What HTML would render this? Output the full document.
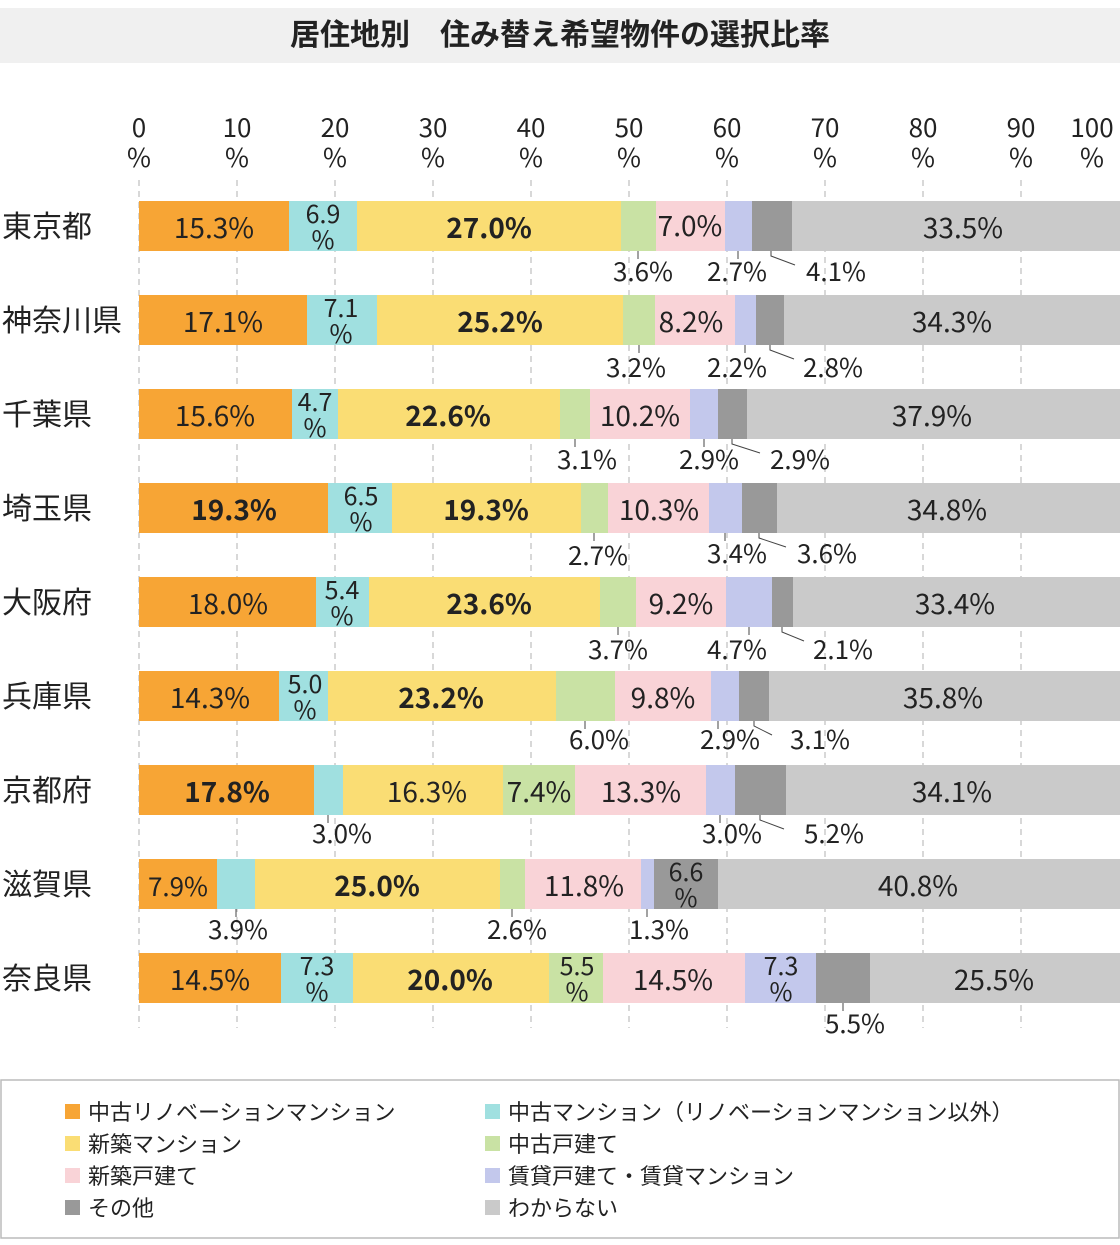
<!DOCTYPE html>
<html><head><meta charset="utf-8"><style>
body{margin:0;background:#fff;width:1120px;height:1240px;overflow:hidden;font-family:"Noto Sans CJK JP",sans-serif;}
svg text{font-family:"Noto Sans CJK JP",sans-serif;fill:#222;}
</style></head><body>
<svg width="1120" height="1240" xmlns="http://www.w3.org/2000/svg">
<rect x="0" y="8" width="1120" height="55" fill="#f0f0f0"/>
<text x="560" y="45" font-size="30" font-weight="bold" text-anchor="middle">居住地別　住み替え希望物件の選択比率</text>
<g stroke="#ccc" stroke-width="1.5" stroke-dasharray="6,5">
<line x1="139" y1="180" x2="139" y2="1028"/><line x1="237" y1="180" x2="237" y2="1028"/><line x1="335" y1="180" x2="335" y2="1028"/><line x1="433" y1="180" x2="433" y2="1028"/><line x1="531" y1="180" x2="531" y2="1028"/><line x1="629" y1="180" x2="629" y2="1028"/><line x1="727" y1="180" x2="727" y2="1028"/><line x1="825" y1="180" x2="825" y2="1028"/><line x1="923" y1="180" x2="923" y2="1028"/><line x1="1021" y1="180" x2="1021" y2="1028"/>
</g>
<g font-size="26" text-anchor="middle">
<text x="139" y="137">0</text><text x="139" y="167">%</text>
<text x="237" y="137">10</text><text x="237" y="167">%</text>
<text x="335" y="137">20</text><text x="335" y="167">%</text>
<text x="433" y="137">30</text><text x="433" y="167">%</text>
<text x="531" y="137">40</text><text x="531" y="167">%</text>
<text x="629" y="137">50</text><text x="629" y="167">%</text>
<text x="727" y="137">60</text><text x="727" y="167">%</text>
<text x="825" y="137">70</text><text x="825" y="167">%</text>
<text x="923" y="137">80</text><text x="923" y="167">%</text>
<text x="1021" y="137">90</text><text x="1021" y="167">%</text><text x="1092" y="137">100</text><text x="1092" y="167">%</text>
</g>
<g font-size="30">
<text x="2" y="237">東京都</text><text x="2" y="331">神奈川県</text><text x="2" y="425">千葉県</text><text x="2" y="519">埼玉県</text><text x="2" y="613">大阪府</text><text x="2" y="707">兵庫県</text><text x="2" y="801">京都府</text><text x="2" y="895">滋賀県</text><text x="2" y="989">奈良県</text>
</g>
<g font-size="28" text-anchor="middle">
<g transform="translate(0,201)">
<rect x="139" y="0" width="150" height="50" fill="#f7a535"/><rect x="289" y="0" width="68" height="50" fill="#a0e0e0"/><rect x="357" y="0" width="264" height="50" fill="#fadd74"/><rect x="621" y="0" width="35" height="50" fill="#c9e2a4"/><rect x="656" y="0" width="69" height="50" fill="#f9d3d7"/><rect x="725" y="0" width="27" height="50" fill="#c3c8ec"/><rect x="752" y="0" width="40" height="50" fill="#999"/><rect x="792" y="0" width="328" height="50" fill="#cacaca"/>
<text x="214" y="37">15.3%</text><text x="323" y="22" font-size="25">6.9</text><text x="323" y="48" font-size="25">%</text><text x="489" y="37" font-weight="bold">27.0%</text><text x="690" y="35">7.0%</text><text x="963" y="37">33.5%</text>
<g stroke="#444" fill="none" stroke-width="1"><line x1="638" y1="50" x2="638" y2="58"/><line x1="738" y1="50" x2="738" y2="58"/><polyline points="771,50 771,55 795,64"/></g>
<g font-size="26"><text x="643" y="80">3.6%</text><text x="737" y="80">2.7%</text><text x="836" y="80">4.1%</text></g>
</g>
<g transform="translate(0,295)">
<rect x="139" y="0" width="168" height="50" fill="#f7a535"/><rect x="307" y="0" width="70" height="50" fill="#a0e0e0"/><rect x="377" y="0" width="246" height="50" fill="#fadd74"/><rect x="623" y="0" width="32" height="50" fill="#c9e2a4"/><rect x="655" y="0" width="80" height="50" fill="#f9d3d7"/><rect x="735" y="0" width="21" height="50" fill="#c3c8ec"/><rect x="756" y="0" width="28" height="50" fill="#999"/><rect x="784" y="0" width="336" height="50" fill="#cacaca"/>
<text x="223" y="37">17.1%</text><text x="341" y="22" font-size="25">7.1</text><text x="341" y="48" font-size="25">%</text><text x="500" y="37" font-weight="bold">25.2%</text><text x="691" y="37">8.2%</text><text x="952" y="37">34.3%</text>
<g stroke="#444" fill="none" stroke-width="1"><line x1="639" y1="50" x2="639" y2="58"/><line x1="745" y1="50" x2="745" y2="58"/><polyline points="770,50 770,55 794,64"/></g>
<g font-size="26"><text x="636" y="82">3.2%</text><text x="737" y="82">2.2%</text><text x="833" y="82">2.8%</text></g>
</g>
<g transform="translate(0,389)">
<rect x="139" y="0" width="153" height="50" fill="#f7a535"/><rect x="292" y="0" width="46" height="50" fill="#a0e0e0"/><rect x="338" y="0" width="222" height="50" fill="#fadd74"/><rect x="560" y="0" width="30" height="50" fill="#c9e2a4"/><rect x="590" y="0" width="100" height="50" fill="#f9d3d7"/><rect x="690" y="0" width="28" height="50" fill="#c3c8ec"/><rect x="718" y="0" width="29" height="50" fill="#999"/><rect x="747" y="0" width="373" height="50" fill="#cacaca"/>
<text x="215" y="37">15.6%</text><text x="315" y="22" font-size="25">4.7</text><text x="315" y="48" font-size="25">%</text><text x="448" y="37" font-weight="bold">22.6%</text><text x="640" y="37">10.2%</text><text x="932" y="37">37.9%</text>
<g stroke="#444" fill="none" stroke-width="1"><line x1="575" y1="50" x2="575" y2="58"/><line x1="704" y1="50" x2="704" y2="58"/><polyline points="732,50 732,55 760,64"/></g>
<g font-size="26"><text x="587" y="80">3.1%</text><text x="709" y="80">2.9%</text><text x="800" y="80">2.9%</text></g>
</g>
<g transform="translate(0,483)">
<rect x="139" y="0" width="189" height="50" fill="#f7a535"/><rect x="328" y="0" width="64" height="50" fill="#a0e0e0"/><rect x="392" y="0" width="189" height="50" fill="#fadd74"/><rect x="581" y="0" width="27" height="50" fill="#c9e2a4"/><rect x="608" y="0" width="101" height="50" fill="#f9d3d7"/><rect x="709" y="0" width="33" height="50" fill="#c3c8ec"/><rect x="742" y="0" width="35" height="50" fill="#999"/><rect x="777" y="0" width="343" height="50" fill="#cacaca"/>
<text x="234" y="37" font-weight="bold">19.3%</text><text x="361" y="22" font-size="25">6.5</text><text x="361" y="48" font-size="25">%</text><text x="486" y="37" font-weight="bold">19.3%</text><text x="659" y="37">10.3%</text><text x="947" y="37">34.8%</text>
<g stroke="#444" fill="none" stroke-width="1"><line x1="594" y1="50" x2="594" y2="58"/><line x1="725" y1="50" x2="725" y2="58"/><polyline points="759,50 759,55 786,64"/></g>
<g font-size="26"><text x="598" y="82">2.7%</text><text x="737" y="80">3.4%</text><text x="827" y="80">3.6%</text></g>
</g>
<g transform="translate(0,577)">
<rect x="139" y="0" width="177" height="50" fill="#f7a535"/><rect x="316" y="0" width="53" height="50" fill="#a0e0e0"/><rect x="369" y="0" width="231" height="50" fill="#fadd74"/><rect x="600" y="0" width="36" height="50" fill="#c9e2a4"/><rect x="636" y="0" width="90" height="50" fill="#f9d3d7"/><rect x="726" y="0" width="46" height="50" fill="#c3c8ec"/><rect x="772" y="0" width="21" height="50" fill="#999"/><rect x="793" y="0" width="327" height="50" fill="#cacaca"/>
<text x="228" y="37">18.0%</text><text x="342" y="22" font-size="25">5.4</text><text x="342" y="48" font-size="25">%</text><text x="489" y="37" font-weight="bold">23.6%</text><text x="681" y="37">9.2%</text><text x="955" y="37">33.4%</text>
<g stroke="#444" fill="none" stroke-width="1"><line x1="618" y1="50" x2="618" y2="58"/><line x1="749" y1="50" x2="749" y2="58"/><polyline points="782,50 782,55 804,64"/></g>
<g font-size="26"><text x="618" y="82">3.7%</text><text x="737" y="82">4.7%</text><text x="843" y="82">2.1%</text></g>
</g>
<g transform="translate(0,671)">
<rect x="139" y="0" width="140" height="50" fill="#f7a535"/><rect x="279" y="0" width="49" height="50" fill="#a0e0e0"/><rect x="328" y="0" width="228" height="50" fill="#fadd74"/><rect x="556" y="0" width="59" height="50" fill="#c9e2a4"/><rect x="615" y="0" width="96" height="50" fill="#f9d3d7"/><rect x="711" y="0" width="28" height="50" fill="#c3c8ec"/><rect x="739" y="0" width="30" height="50" fill="#999"/><rect x="769" y="0" width="351" height="50" fill="#cacaca"/>
<text x="210" y="37">14.3%</text><text x="305" y="22" font-size="25">5.0</text><text x="305" y="48" font-size="25">%</text><text x="441" y="37" font-weight="bold">23.2%</text><text x="663" y="37">9.8%</text><text x="943" y="37">35.8%</text>
<g stroke="#444" fill="none" stroke-width="1"><line x1="585" y1="50" x2="585" y2="58"/><line x1="718" y1="50" x2="718" y2="58"/><polyline points="754,50 754,55 772,64"/></g>
<g font-size="26"><text x="599" y="78">6.0%</text><text x="730" y="78">2.9%</text><text x="820" y="78">3.1%</text></g>
</g>
<g transform="translate(0,765)">
<rect x="139" y="0" width="175" height="50" fill="#f7a535"/><rect x="314" y="0" width="29" height="50" fill="#a0e0e0"/><rect x="343" y="0" width="160" height="50" fill="#fadd74"/><rect x="503" y="0" width="72" height="50" fill="#c9e2a4"/><rect x="575" y="0" width="131" height="50" fill="#f9d3d7"/><rect x="706" y="0" width="29" height="50" fill="#c3c8ec"/><rect x="735" y="0" width="51" height="50" fill="#999"/><rect x="786" y="0" width="334" height="50" fill="#cacaca"/>
<text x="227" y="37" font-weight="bold">17.8%</text><text x="427" y="37">16.3%</text><text x="539" y="37">7.4%</text><text x="641" y="37">13.3%</text><text x="952" y="37">34.1%</text>
<g stroke="#444" fill="none" stroke-width="1"><line x1="328" y1="50" x2="328" y2="58"/><line x1="720" y1="50" x2="720" y2="58"/><polyline points="760,50 760,55 784,64"/></g>
<g font-size="26"><text x="342" y="78">3.0%</text><text x="732" y="78">3.0%</text><text x="834" y="78">5.2%</text></g>
</g>
<g transform="translate(0,859)">
<rect x="139" y="0" width="78" height="50" fill="#f7a535"/><rect x="217" y="0" width="38" height="50" fill="#a0e0e0"/><rect x="255" y="0" width="245" height="50" fill="#fadd74"/><rect x="500" y="0" width="25" height="50" fill="#c9e2a4"/><rect x="525" y="0" width="116" height="50" fill="#f9d3d7"/><rect x="641" y="0" width="13" height="50" fill="#c3c8ec"/><rect x="654" y="0" width="64" height="50" fill="#999"/><rect x="718" y="0" width="402" height="50" fill="#cacaca"/>
<text x="178" y="37" font-size="26">7.9%</text><text x="377" y="37" font-weight="bold">25.0%</text><text x="584" y="37">11.8%</text><text x="686" y="22" font-size="25">6.6</text><text x="686" y="48" font-size="25">%</text><text x="918" y="37">40.8%</text>
<g stroke="#444" fill="none" stroke-width="1"><line x1="236" y1="50" x2="236" y2="58"/><line x1="512" y1="50" x2="512" y2="58"/><line x1="647" y1="50" x2="647" y2="58"/></g>
<g font-size="26"><text x="238" y="80">3.9%</text><text x="517" y="80">2.6%</text><text x="659" y="80">1.3%</text></g>
</g>
<g transform="translate(0,953)">
<rect x="139" y="0" width="142" height="50" fill="#f7a535"/><rect x="281" y="0" width="72" height="50" fill="#a0e0e0"/><rect x="353" y="0" width="196" height="50" fill="#fadd74"/><rect x="549" y="0" width="54" height="50" fill="#c9e2a4"/><rect x="603" y="0" width="142" height="50" fill="#f9d3d7"/><rect x="745" y="0" width="71" height="50" fill="#c3c8ec"/><rect x="816" y="0" width="54" height="50" fill="#999"/><rect x="870" y="0" width="250" height="50" fill="#cacaca"/>
<text x="210" y="37">14.5%</text><text x="317" y="22" font-size="25">7.3</text><text x="317" y="48" font-size="25">%</text><text x="450" y="37" font-weight="bold">20.0%</text><text x="577" y="22" font-size="25">5.5</text><text x="577" y="48" font-size="25">%</text><text x="673" y="37">14.5%</text><text x="781" y="22" font-size="25">7.3</text><text x="781" y="48" font-size="25">%</text><text x="994" y="37">25.5%</text>
<g stroke="#444" fill="none" stroke-width="1"><line x1="843" y1="50" x2="843" y2="58"/></g>
<g font-size="26"><text x="855" y="80">5.5%</text></g>
</g>
</g>
<rect x="1" y="1080" width="1118" height="158" fill="#fff" stroke="#bbb" stroke-width="1.5"/>
<g font-size="22">
<rect x="65" y="1104" width="15" height="15" fill="#f7a535"/><text x="88" y="1120">中古リノベーションマンション</text>
<rect x="485" y="1104" width="15" height="15" fill="#a0e0e0"/><text x="508" y="1120">中古マンション（リノベーションマンション以外）</text>
<rect x="65" y="1136" width="15" height="15" fill="#fadd74"/><text x="88" y="1152">新築マンション</text>
<rect x="485" y="1136" width="15" height="15" fill="#c9e2a4"/><text x="508" y="1152">中古戸建て</text>
<rect x="65" y="1168" width="15" height="15" fill="#f9d3d7"/><text x="88" y="1184">新築戸建て</text>
<rect x="485" y="1168" width="15" height="15" fill="#c3c8ec"/><text x="508" y="1184">賃貸戸建て・賃貸マンション</text>
<rect x="65" y="1200" width="15" height="15" fill="#999"/><text x="88" y="1216">その他</text>
<rect x="485" y="1200" width="15" height="15" fill="#cacaca"/><text x="508" y="1216">わからない</text>
</g>
</svg>
</body></html>
